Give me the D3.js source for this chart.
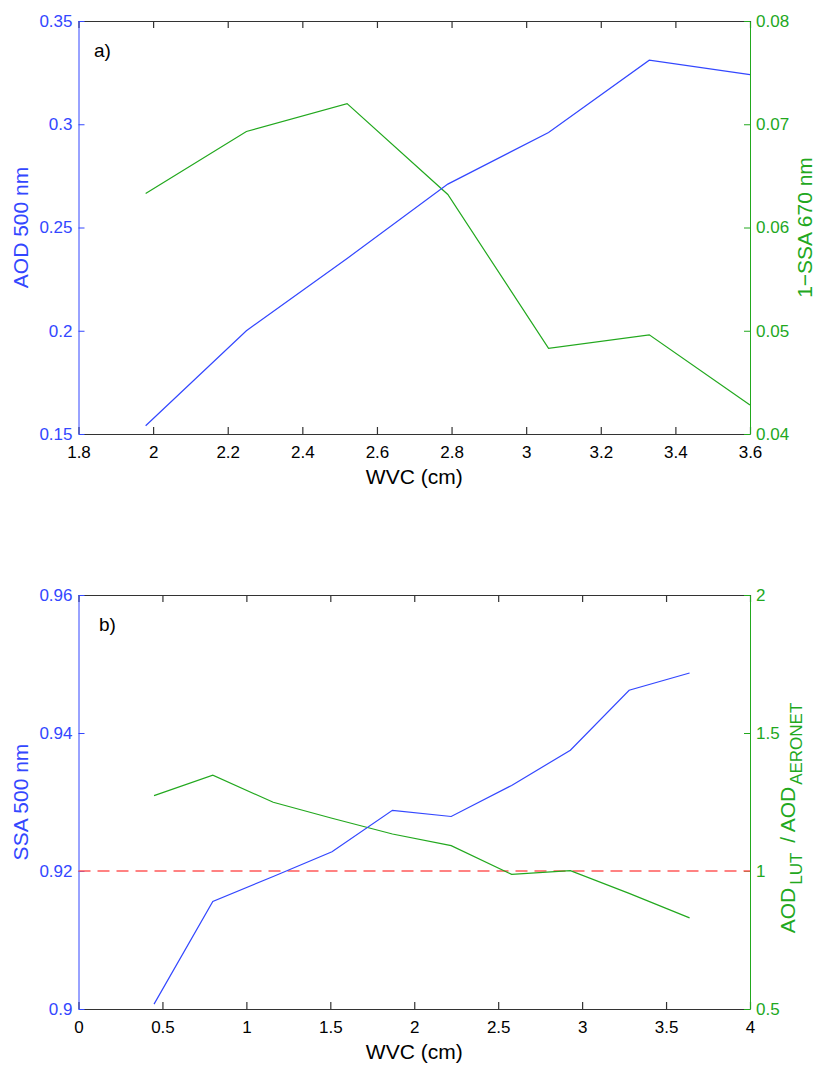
<!DOCTYPE html>
<html>
<head>
<meta charset="utf-8">
<script src="https://cdn.jsdelivr.net/npm/d3@7"></script>
<style>
  body { margin: 0; background: #fff; }
  svg text { font-family: "Liberation Sans", Arial, Helvetica, sans-serif; }
</style>
</head>
<body>
<div id="chart"></div>
<script>
// panel a) values
const wvcA = [1.98, 2.25, 2.52, 2.79, 3.06, 3.33, 3.60];
const aodA = [0.154, 0.200, 0.235, 0.271, 0.296, 0.331, 0.324];
const absA = [0.0633, 0.0693, 0.0720, 0.0632, 0.0483, 0.0496, 0.0428];
const xTicksA = [1.8, 2, 2.2, 2.4, 2.6, 2.8, 3, 3.2, 3.4, 3.6];
const leftTicksA = [0.15, 0.2, 0.25, 0.3, 0.35];
const rightTicksA = [0.04, 0.05, 0.06, 0.07, 0.08];

// panel b) values
const wvcB = [0.45, 0.80, 1.16, 1.51, 1.87, 2.22, 2.58, 2.93, 3.28, 3.64];
const ssaB = [0.9007, 0.9156, 0.9192, 0.9228, 0.9288, 0.9279, 0.9324, 0.9375, 0.9462, 0.9487];
const ratioB = [1.273, 1.347, 1.249, 1.191, 1.134, 1.092, 0.988, 1.001, 0.919, 0.830];
const xTicksB = [0, 0.5, 1, 1.5, 2, 2.5, 3, 3.5, 4];
const leftTicksB = [0.9, 0.92, 0.94, 0.96];
const rightTicksB = [0.5, 1, 1.5, 2];
const ratioRef = 1;

(function twoPanels(){
  let width = 815,
  height = 1065,
  margin = ({left: 78.5, right: 750});

  const blue = "#3347ff",
  green = "#22a81e",
  axisGrey = "#333";

  const svg = d3.select("#chart")
    .append("svg")
    .attr("width", width)
    .attr("height", height)
    .attr("viewBox", [0, 0, width, height]);

  function panel(cfg) {
    const g = svg.append("g");

    let x = d3.scaleLinear().domain(d3.extent(cfg.xTicks)).range([margin.left, margin.right]);
    let yL = d3.scaleLinear().domain(d3.extent(cfg.leftTicks)).range([cfg.bottom, cfg.top]);
    let yR = d3.scaleLinear().domain(d3.extent(cfg.rightTicks)).range([cfg.bottom, cfg.top]);
    const fmt = d => String(d);

    // Axes (ticks point inward, like the original box)
    const bottomAxis = g.append("g")
      .attr("transform", `translate(0,${cfg.bottom})`)
      .call(d3.axisBottom(x).tickValues(cfg.xTicks).tickFormat(fmt)
        .tickSizeInner(-7).tickSizeOuter(0).tickPadding(12));
    bottomAxis.selectAll("text").attr("fill", "#000").style("font-size", "17px");

    g.append("g")
      .attr("transform", `translate(0,${cfg.top})`)
      .call(d3.axisTop(x).tickValues(cfg.xTicks).tickFormat("")
        .tickSizeInner(-7).tickSizeOuter(0));

    g.selectAll(".tick line, .domain").attr("stroke", axisGrey).attr("stroke-width", 1.2);

    const leftAxis = g.append("g")
      .attr("transform", `translate(${margin.left},0)`)
      .call(d3.axisLeft(yL).tickValues(cfg.leftTicks).tickFormat(fmt)
        .tickSizeInner(-6).tickSizeOuter(0).tickPadding(6));
    leftAxis.selectAll("line, path").attr("stroke", blue);
    leftAxis.selectAll("text").attr("fill", blue).style("font-size", "17px");

    const rightAxis = g.append("g")
      .attr("transform", `translate(${margin.right},0)`)
      .call(d3.axisRight(yR).tickValues(cfg.rightTicks).tickFormat(fmt)
        .tickSizeInner(-6).tickSizeOuter(0).tickPadding(6));
    rightAxis.selectAll("line, path").attr("stroke", green);
    rightAxis.selectAll("text").attr("fill", green).style("font-size", "17px");

    // reference line
    if (cfg.ref !== undefined) {
      g.append("line")
        .attr("x1", margin.left)
        .attr("x2", margin.right)
        .attr("y1", yR(cfg.ref))
        .attr("y2", yR(cfg.ref))
        .attr("stroke", "#ff5a5a")
        .attr("stroke-width", 1.3)
        .attr("stroke-dasharray", "12,7");
    }

    // Lines
    const leftLine = d3.line().x((d, i) => x(cfg.xs[i])).y(d => yL(d));
    const rightLine = d3.line().x((d, i) => x(cfg.xs[i])).y(d => yR(d));

    g.append("path")
      .datum(cfg.rightVals)
      .attr("d", rightLine)
      .attr("fill", "none")
      .attr("stroke", green)
      .attr("stroke-width", 1.2);

    g.append("path")
      .datum(cfg.leftVals)
      .attr("d", leftLine)
      .attr("fill", "none")
      .attr("stroke", blue)
      .attr("stroke-width", 1.2);

    // panel letter
    g.append("text")
      .attr("x", cfg.letterX)
      .attr("y", cfg.top + 36)
      .attr("fill", "#000")
      .style("font-size", "19px")
      .text(cfg.letter);

    // x title
    g.append("text")
      .attr("x", (margin.left + margin.right) / 2)
      .attr("y", cfg.bottom + 50)
      .attr("text-anchor", "middle")
      .style("font-size", "21px")
      .text("WVC (cm)");

    let mid = (cfg.top + cfg.bottom) / 2;

    g.append("text")
      .attr("transform", `translate(28,${mid}) rotate(-90)`)
      .attr("text-anchor", "middle")
      .attr("fill", blue)
      .style("font-size", "21px")
      .text(cfg.leftTitle);

    const rt = g.append("text")
      .attr("transform", `translate(${cfg.rightTitleX},${mid + cfg.rightShift}) rotate(-90)`)
      .attr("text-anchor", "middle")
      .attr("fill", green)
      .style("font-size", "21px");
    cfg.rightTitle(rt);
  }

  panel({
    top: 21, bottom: 434,
    xTicks: xTicksA, leftTicks: leftTicksA, rightTicks: rightTicksA,
    xs: wvcA, leftVals: aodA, rightVals: absA,
    letter: "a)", letterX: 94,
    leftTitle: "AOD 500 nm",
    rightTitleX: 812, rightShift: 0,
    rightTitle: t => t.text("1\u2212SSA 670 nm")
  });

  panel({
    top: 595, bottom: 1009,
    xTicks: xTicksB, leftTicks: leftTicksB, rightTicks: rightTicksB,
    xs: wvcB, leftVals: ssaB, rightVals: ratioB, ref: ratioRef,
    letter: "b)", letterX: 99,
    leftTitle: "SSA 500 nm",
    rightTitleX: 795, rightShift: 16,
    rightTitle: t => {
      t.append("tspan").text("AOD");
      t.append("tspan").attr("dx", 3).attr("dy", 7).style("font-size", "17px").text("LUT");
      t.append("tspan").attr("dx", 4).attr("dy", -7).text(" / AOD");
      t.append("tspan").attr("dx", 2).attr("dy", 7).style("font-size", "17px").text("AERONET");
    }
  });

  return svg.node();
})();
</script>
</body>
</html>
